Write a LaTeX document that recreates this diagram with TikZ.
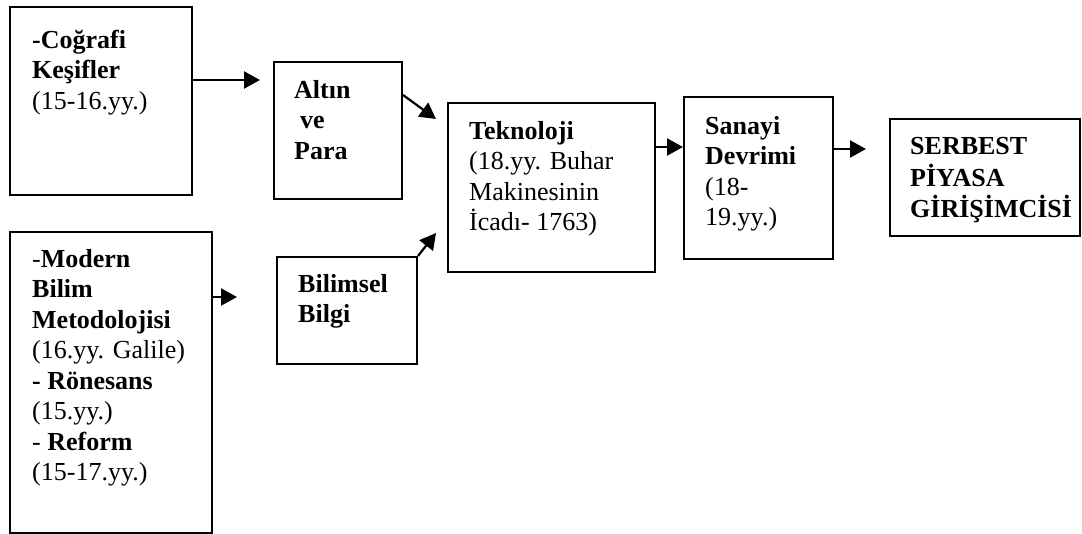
\documentclass[tikz,border=0pt]{standalone}
\usepackage{fontspec}
\setmainfont{Liberation Serif}
\usetikzlibrary{arrows.meta,calc}
\begin{document}
\begin{tikzpicture}[x=1pt,y=-1pt,
  box/.style={draw=black,line width=2pt,inner sep=0pt,rectangle},
  txt/.style={anchor=north west,inner sep=0pt,align=left,font=\fontsize{26}{30.5}\selectfont},
  arr/.style={draw=black,line width=2.2pt,-{Triangle[length=16pt,width=17pt]}}]
\useasboundingbox (0,0) rectangle (1082,534);
% boxes
\node[box,minimum width=182pt,minimum height=188pt] (b1) at (101,101) {};
\node[box,minimum width=128pt,minimum height=137pt] (b2) at (338,130.5) {};
\node[box,minimum width=207pt,minimum height=169pt] (b3) at (551.5,187.5) {};
\node[box,minimum width=149pt,minimum height=162pt] (b4) at (758.5,178) {};
\node[box,minimum width=190pt,minimum height=117pt] (b5) at (985,177.5) {};
\node[box,minimum width=202pt,minimum height=301pt] (b6) at (111,382.5) {};
\node[box,minimum width=140pt,minimum height=107pt] (b7) at (347,310.5) {};
% texts
\node[txt] (t1) at (32,26.65) {\strut\textbf{-Coğrafi}\\\textbf{Keşifler}\\(15-16.yy.)};
\node[txt] (t2) at (294,76.65) {\strut\textbf{Altın}\\\hspace*{6pt}\textbf{ve}\\\textbf{Para}};
\node[txt] (t3) at (469,117.65) {\strut\textbf{Teknoloji}\\(18.yy. Buhar\\Makinesinin\\İcadı- 1763)};
\node[txt] (t4) at (705,112.65) {\strut\textbf{Sanayi}\\\textbf{Devrimi}\\(18-\\19.yy.)};
\node[txt] (t5) at (910,132.65) {\strut\textbf{SERBEST}\\\textbf{PİYASA}\\\textbf{GİRİŞİMCİSİ}};
\node[txt] (t6) at (32,245.65) {\strut-\textbf{Modern}\\\textbf{Bilim}\\\textbf{Metodolojisi}\\(16.yy. Galile)\\\textbf{- Rönesans}\\(15.yy.)\\- \textbf{Reform}\\(15-17.yy.)};
\node[txt] (t7) at (298,270.65) {\strut\textbf{Bilimsel}\\\textbf{Bilgi}};
% arrow end points
\coordinate (a1e) at (260,80);
\coordinate (a2e) at (436,119);
\coordinate (a3s) at ([yshift=40.5pt]b3.east);
\coordinate (a4e) at (866,149);
\coordinate (a5e) at (237,297);
\coordinate (a6e) at (436,233);
% connectors
\draw[arr] (b1.east |- a1e) -- (a1e);
\draw[arr] ([yshift=35.5pt]b2.east) -- (a2e);
\draw[arr] (a3s) -- (a3s -| b4.west);
\draw[arr] (b4.east |- a4e) -- (a4e);
\draw[arr] (b6.east |- a5e) -- (a5e);
\draw[arr] (b7.north east) -- (a6e);
\end{tikzpicture}
\end{document}
